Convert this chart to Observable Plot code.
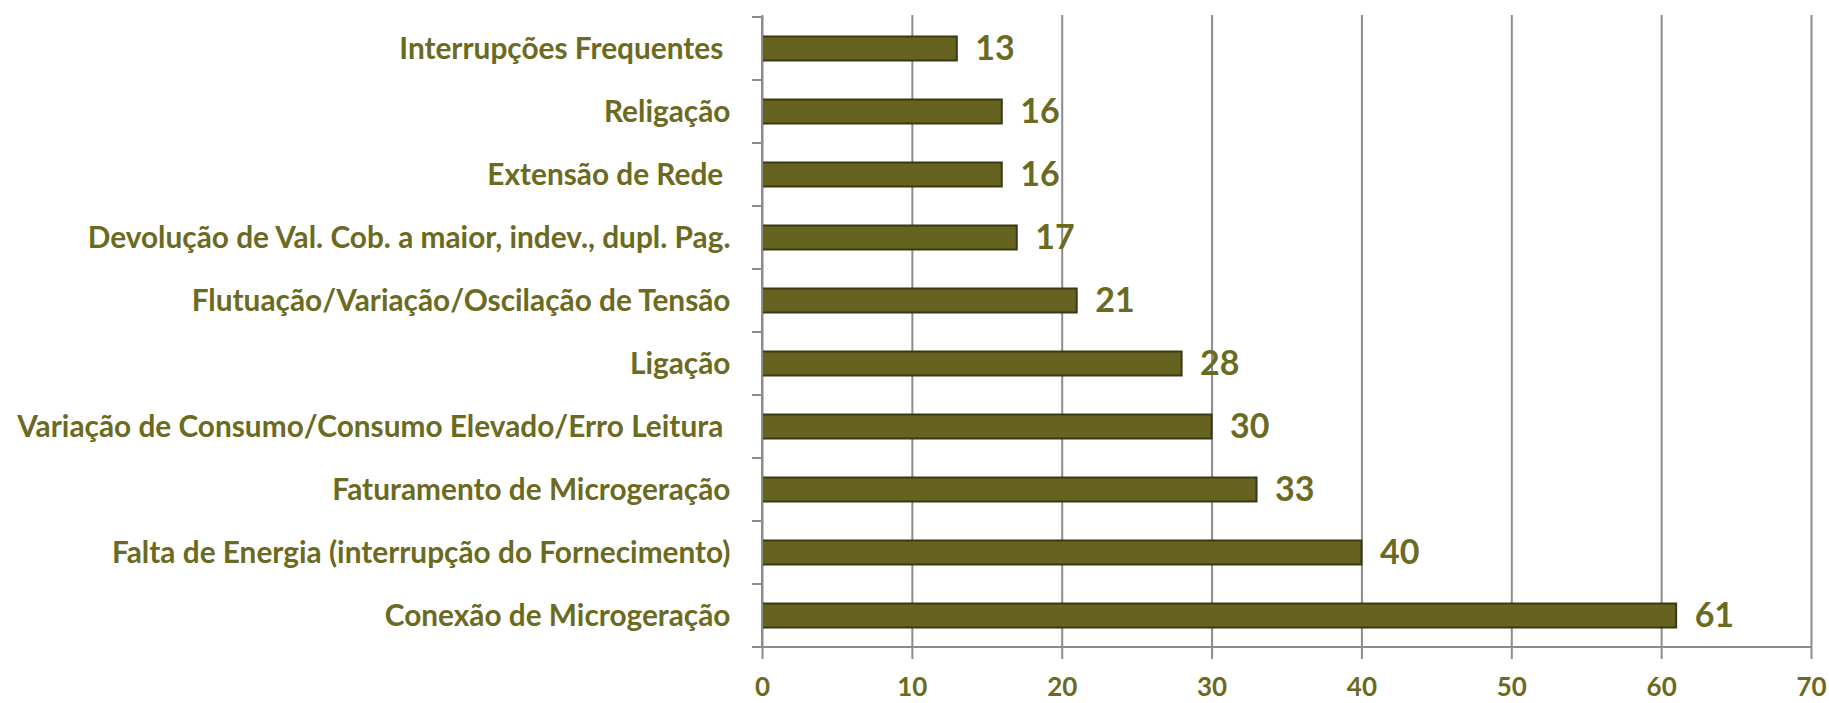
<!DOCTYPE html>
<html>
<head>
<meta charset="utf-8">
<script src="https://cdn.jsdelivr.net/npm/d3@7"></script>
<script src="https://cdn.jsdelivr.net/npm/@observablehq/plot@0.6"></script>
<style>
  html, body { margin: 0; padding: 0; background: #fff; }
  #chart svg { display: block; }
</style>
</head>
<body>
<div id="chart"></div>
<script>
const categories = [
  "Interrupções Frequentes\u00a0",
  "Religação",
  "Extensão de Rede\u00a0",
  "Devolução de Val. Cob. a maior, indev., dupl. Pag.",
  "Flutuação/Variação/Oscilação de Tensão",
  "Ligação",
  "Variação de Consumo/Consumo Elevado/Erro Leitura\u00a0",
  "Faturamento de Microgeração",
  "Falta de Energia (interrupção do Fornecimento)",
  "Conexão de Microgeração"
];
const values = [13, 16, 16, 17, 21, 28, 30, 33, 40, 61];
const xTicks = [0, 10, 20, 30, 40, 50, 60, 70];

const data = categories.map((c, i) => ({category: c, value: values[i]}));

const FONT = 'Lato, "Open Sans", "Noto Sans", sans-serif';
const TEXT = "#6B6A1F";
const GRID = "#8C8C8C";

// band boundary ticks and the axis lines, drawn from the plot's own scales
function axisFrame(index, scales, values, dims) {
  const y = scales.y, x = scales.x;
  const step = y(categories[1]) - y(categories[0]);
  const bounds = categories.map(c => y(c));
  bounds.push(y(categories[categories.length - 1]) + step);
  const g = d3.create("svg:g").attr("stroke", GRID).attr("stroke-width", 2);
  for (const b of bounds) {
    g.append("line").attr("x1", x(0) - 10).attr("x2", x(0)).attr("y1", b).attr("y2", b);
  }
  const bottom = bounds[bounds.length - 1];
  g.append("line").attr("x1", x(0)).attr("x2", x(70)).attr("y1", bottom).attr("y2", bottom);
  g.append("line").attr("x1", x(0)).attr("x2", x(0)).attr("y1", bounds[0]).attr("y2", bottom);
  return g.node();
}

const chart = Plot.plot({
  width: 1829,
  height: 703,
  marginLeft: 762,
  marginRight: 18,
  marginTop: 15,
  marginBottom: 54,
  style: {fontFamily: FONT, background: "#fff"},
  x: {domain: [0, 70], ticks: xTicks},
  y: {domain: categories, padding: 0},
  marks: [
    Plot.gridX(xTicks, {stroke: GRID, strokeOpacity: 1, strokeWidth: 2}),
    Plot.barX(data, {
      x: "value", y: "category",
      fill: "#666220", stroke: "#3B3912", strokeWidth: 2,
      insetTop: 19.5, insetBottom: 19.5
    }),
    Plot.text(data, {
      x: "value", y: "category", text: d => String(d.value),
      textAnchor: "start", dx: 18, fontSize: 34, fontWeight: "bold", fill: TEXT
    }),
    axisFrame,
    Plot.axisX(xTicks, {
      anchor: "bottom", tickSize: 10, tickPadding: 18, stroke: GRID, strokeWidth: 2,
      fontSize: 26, fontWeight: "bold", fill: TEXT, label: null
    }),
    Plot.axisY({
      anchor: "left", tickSize: 0, tickPadding: 32,
      fontSize: 29.8, fontWeight: "bold", fill: TEXT, label: null
    })
  ]
});
document.getElementById("chart").append(chart);
</script>
</body>
</html>
